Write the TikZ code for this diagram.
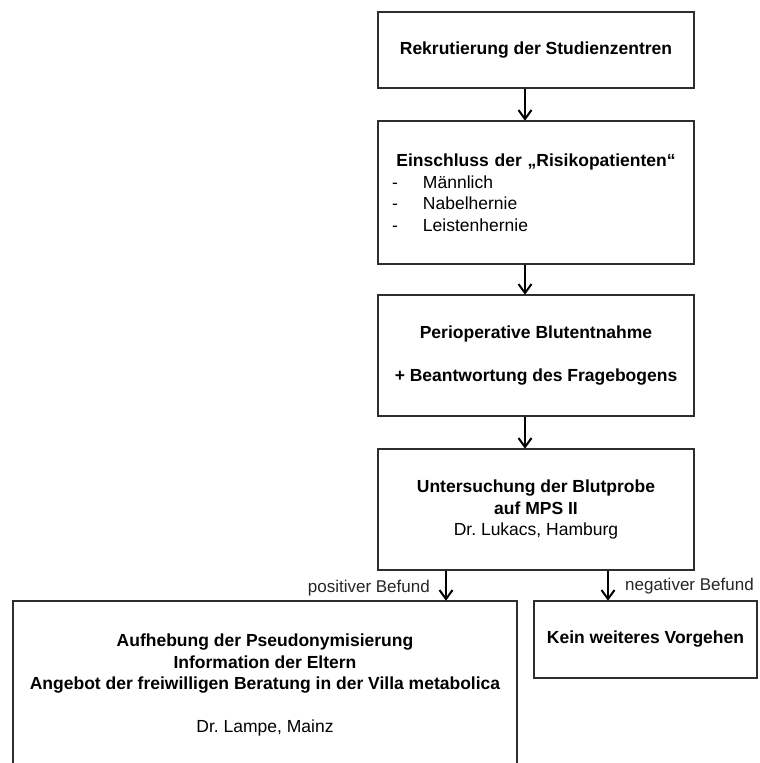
\documentclass[tikz,border=0pt]{standalone}
\usepackage{fontspec}
\setmainfont{Liberation Sans}
\frenchspacing
\usetikzlibrary{arrows.meta}
\definecolor{boxline}{HTML}{2E2E2E}
\tikzset{
  box/.style={draw=boxline, line width=1.5pt, fill=white, inner sep=0pt,
    align=center, font=\fontsize{17.5}{21.5}\selectfont\frenchspacing},
  lbl/.style={inner sep=0pt, font=\fontsize{17}{21}\selectfont\frenchspacing, text=black!85},
  arr/.style={line width=2pt, shorten >=-0.5pt, -{Straight Barb[length=9pt,width=13pt,line width=2pt]}}
}
\begin{document}
\begin{tikzpicture}[x=1pt,y=-1pt]
\useasboundingbox (0,0) rectangle (760,763);
\clip (0,0) rectangle (760,763);
\fill[white] (0,0) rectangle (760,763);
\coordinate (ax) at (525,0);
\coordinate (px) at (446,0);
\coordinate (nx) at (608,0);

\node[box, minimum width=316, minimum height=76] (b1) at (536,50)
  {\bfseries Rekrutierung der Studienzentren};

\node[box, minimum width=316, minimum height=143, text width=288, align=left] (b2) at (536,192.5)
  {\makebox[288pt][c]{\bfseries Einschluss der „Risikopatienten“}\\
   \makebox[31pt][l]{-}Männlich\\
   \makebox[31pt][l]{-}Nabelhernie\\
   \makebox[31pt][l]{-}Leistenhernie};

\node[box, minimum width=316, minimum height=121] (b3) at (536,355.5)
  {\bfseries Perioperative Blutentnahme\\[21.5pt]\bfseries + Beantwortung des Fragebogens};

\node[box, minimum width=316, minimum height=121] (b4) at (536,509.5)
  {\bfseries Untersuchung der Blutprobe\\\bfseries auf MPS II\\Dr. Lukacs, Hamburg};

\node[box, minimum width=504, minimum height=168] (b5) at (265,685)
  {\bfseries Aufhebung der Pseudonymisierung\\
   \bfseries Information der Eltern\\
   \bfseries Angebot der freiwilligen Beratung in der Villa metabolica\\[21.5pt]
   Dr. Lampe, Mainz};

\node[box, minimum width=223, minimum height=77] (b6) at (645.5,639.5)
  {\bfseries Kein weiteres Vorgehen};

\draw[arr] (b1.south -| ax) -- (b2.north -| ax);
\draw[arr] (b2.south -| ax) -- (b3.north -| ax);
\draw[arr] (b3.south -| ax) -- (b4.north -| ax);
\draw[arr] (b4.south -| px) -- (b5.north -| px);
\draw[arr] (b4.south -| nx) -- (b6.north -| nx);

\node[lbl, anchor=base east] (pos) at (430,592) {positiver Befund};
\node[lbl, anchor=base west] (neg) at (625,590) {negativer Befund};
\end{tikzpicture}
\end{document}
